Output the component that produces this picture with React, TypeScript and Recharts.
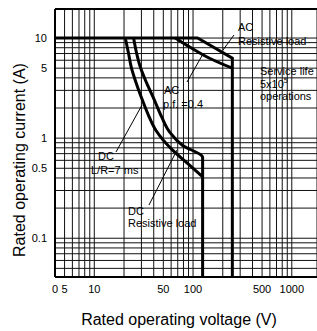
import { LineChart, Line, XAxis, YAxis, CartesianGrid, ReferenceLine } from 'recharts';

// axis range (volts / amps)
const X_MIN = 4;
const X_MAX = 1800;
const Y_MIN = 0.041;
const Y_MAX = 19.5;

const xTicks = [4, 5, 6, 7, 8, 9, 10, 20, 30, 40, 50, 60, 70, 80, 90, 100, 200, 300, 400, 500, 600, 700, 800, 900, 1000];
const xLabels: Record<number, string> = { 4: '0', 5: '5', 10: '10', 50: '50', 100: '100', 500: '500', 1000: '1000' };

const yTicks = [0.05, 0.06, 0.07, 0.08, 0.09, 0.1, 0.2, 0.3, 0.4, 0.5, 0.6, 0.7, 0.8, 0.9, 1, 2, 3, 4, 5, 6, 7, 8, 9, 10];
const yLabels: Record<number, string> = { 0.1: '0.1', 0.5: '0.5', 1: '1', 5: '5', 10: '10' };

// AC resistive load (includes the 10 A ceiling and the 250 V wall)
const acResVolts = [4, 111, 127, 250, 250];
const acResAmps = [10, 10, 9.3, 6.3, Y_MIN];

// AC p.f. = 0.4
const acPfVolts = [66, 86, 137, 250];
const acPfAmps = [10, 8.5, 6.5, 5.0];

// DC resistive load (with the 125 V wall)
const dcResVolts = [25, 26.7, 29.3, 33.7, 40.6, 48.5, 58, 78, 125, 125];
const dcResAmps = [10, 7.2, 5.1, 3.6, 2.4, 1.6, 1.15, 0.85, 0.64, Y_MIN];

// DC L/R = 7 ms
const dcLrVolts = [20.6, 22.1, 23.7, 26.7, 30.7, 35.3, 42, 62, 88, 125];
const dcLrAmps = [10, 7.2, 5.1, 3.5, 2.4, 1.7, 1.2, 0.76, 0.56, 0.41];

const toPoints = (volts: number[], amps: number[]) => volts.map((v, i) => ({ v, a: amps[i] }));

const series = [
  { key: 'acRes', data: toPoints(acResVolts, acResAmps), curve: 'linear' },
  { key: 'acPf', data: toPoints(acPfVolts, acPfAmps), curve: 'monotone' },
  { key: 'dcRes', data: toPoints(dcResVolts, dcResAmps), curve: 'monotoneY' },
  { key: 'dcLr', data: toPoints(dcLrVolts, dcLrAmps), curve: 'monotoneY' },
] as const;

const font = 'Liberation Sans, Arial, Helvetica, sans-serif';
const tickStyle = { fontSize: 11, fill: '#000', fontFamily: font };

export default function App() {
  return (
    <div style={{ position: 'absolute', left: 0, top: 0, width: 317, height: 331, background: '#fff' }}>
      <LineChart width={317} height={331} margin={{ top: 9, right: 0, left: 0, bottom: 0 }}>
        <CartesianGrid stroke="#111" strokeWidth={1} />
        <XAxis
          type="number"
          dataKey="v"
          scale="log"
          domain={[X_MIN, X_MAX]}
          ticks={xTicks}
          interval={0}
          allowDataOverflow
          height={54}
          tickLine={false}
          axisLine={{ stroke: '#000', strokeWidth: 2 }}
          tick={tickStyle}
          tickFormatter={(v: number) => xLabels[v] ?? ''}
        />
        <YAxis
          type="number"
          dataKey="a"
          scale="log"
          domain={[Y_MIN, Y_MAX]}
          ticks={yTicks}
          interval={0}
          allowDataOverflow
          width={55}
          tickLine={false}
          axisLine={{ stroke: '#000', strokeWidth: 2 }}
          tick={tickStyle}
          tickFormatter={(v: number) => yLabels[v] ?? ''}
        />
        <ReferenceLine y={Y_MAX} stroke="#000" strokeWidth={2} />
        {series.map((s) => (
          <Line
            key={s.key}
            data={s.data as any}
            dataKey="a"
            type={s.curve}
            stroke="#000"
            strokeWidth={3}
            dot={false}
            activeDot={false}
            isAnimationActive={false}
          />
        ))}
      </LineChart>
      <svg
        width={317}
        height={331}
        style={{ position: 'absolute', left: 0, top: 0, pointerEvents: 'none' }}
        fontFamily={font}
      >
        <g fontSize={11} fill="#000">
          <text x={238} y={31}>AC</text>
          <text x={238} y={45}>Resistive load</text>
          <text x={260} y={75}>Service life</text>
          <text x={260} y={88}>
            5x10<tspan fontSize={7} dy={-5}>5</tspan>
          </text>
          <text x={260} y={100}>operations</text>
          <text x={164} y={94}>AC</text>
          <text x={163} y={108}>p.f. =0.4</text>
          <text x={98} y={160}>DC</text>
          <text x={91} y={174}>L/R=7 ms</text>
          <text x={128} y={215}>DC</text>
          <text x={128} y={227}>Resistive load</text>
        </g>
        <g stroke="#000" strokeWidth={1}>
          <line x1={234} y1={35} x2={223} y2={50} />
          <line x1={187} y1={82} x2={203} y2={54} />
          <line x1={116} y1={152} x2={142} y2={105} />
          <line x1={149} y1={205} x2={177} y2={150} />
        </g>
        <text x={19} y={160} fontSize={16} textAnchor="middle" dominantBaseline="central" transform="rotate(-90 19 160)">
          Rated operating current (A)
        </text>
        <text x={179} y={325} fontSize={16} textAnchor="middle">
          Rated operating voltage (V)
        </text>
      </svg>
    </div>
  );
}
